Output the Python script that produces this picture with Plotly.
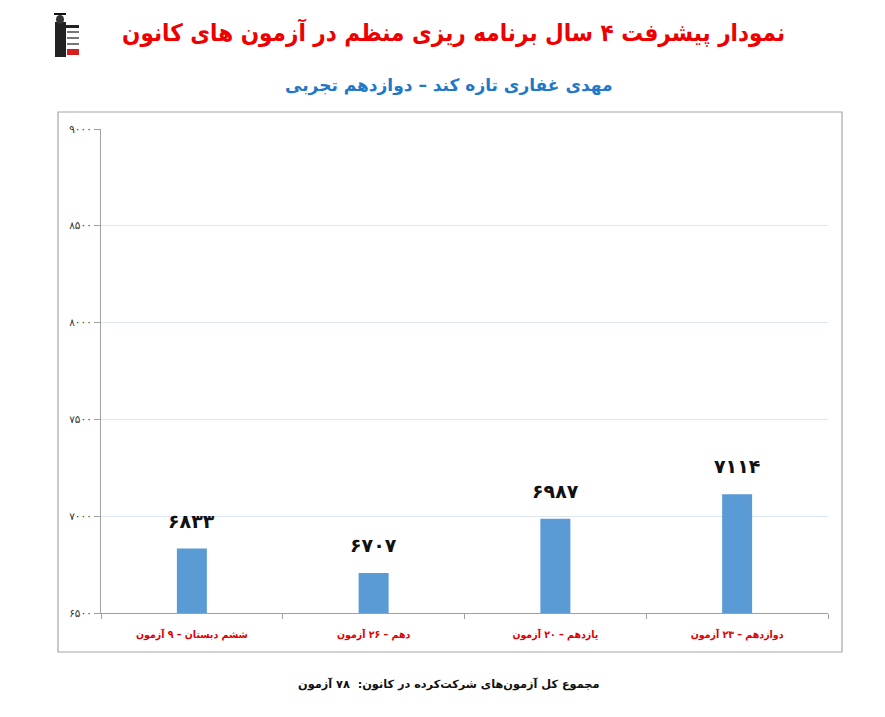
import plotly.graph_objects as go

# ---- data ----
categories = ["ششم دبستان – ۹ آزمون", "دهم – ۲۶ آزمون", "یازدهم – ۲۰ آزمون", "دوازدهم – ۲۳ آزمون"]
scores = [6833, 6707, 6987, 7114]
tick_values = [6500, 7000, 7500, 8000, 8500, 9000]

title_text = "نمودار پیشرفت ۴ سال برنامه ریزی منظم در آزمون های کانون"
subtitle_text = "مهدی غفاری تازه کند – دوازدهم تجربی"
footer_text = "مجموع کل آزمون‌های شرکت‌کرده در کانون:  ۷۸ آزمون"

FA = str.maketrans("0123456789", "۰۱۲۳۴۵۶۷۸۹")
def fa(n):
    return str(n).translate(FA)

FONT = "DejaVu Sans"
FONTC = "DejaVu Sans Condensed, DejaVu Sans"
OFF = 8  # page body offset
W, H = 885, 717
L, R, T, B = 101 - OFF, 828 - OFF, 129 - OFF, 613 - OFF

def px(x):
    return (x - OFF - L) / (R - L)

def py(y):
    return (B - (y - OFF)) / (B - T)

fig = go.Figure()
fig.add_trace(go.Bar(
    x=categories, y=scores, width=0.165,
    marker=dict(color="#5b9bd5", line=dict(width=0)),
    hoverinfo="x+y",
))

annotations = []
for c, v in zip(categories, scores):
    annotations.append(dict(x=c, y=v, xref="x", yref="y", text="<b>" + fa(v) + "</b>",
                            showarrow=False, yanchor="bottom", yshift=15,
                            font=dict(family=FONT, size=19, color="#111111")))

annotations += [
    dict(x=px(453), y=py(32), xref="paper", yref="paper", text="<b>" + title_text + "</b>",
         showarrow=False, xanchor="center", yanchor="middle",
         font=dict(family=FONTC, size=24, color="#ee0000")),
    dict(x=px(449), y=py(85), xref="paper", yref="paper", text="<b>" + subtitle_text + "</b>",
         showarrow=False, xanchor="center", yanchor="middle",
         font=dict(family=FONT, size=17, color="#1f78c8")),
    dict(x=px(448), y=py(684), xref="paper", yref="paper", text="<b>" + footer_text + "</b>",
         showarrow=False, xanchor="center", yanchor="middle",
         font=dict(family=FONT, size=11.3, color="#111111")),
]

def rect(x0, y0, x1, y1, color, kind="rect"):
    return dict(type=kind, xref="paper", yref="paper", x0=px(x0), x1=px(x1), y0=py(y1), y1=py(y0),
                line=dict(width=0), fillcolor=color)

shapes = [
    dict(type="rect", xref="paper", yref="paper", x0=px(58), x1=px(842), y0=py(652), y1=py(112),
         line=dict(color="#a6a6a6", width=1.2), fillcolor="rgba(0,0,0,0)", layer="below"),
    # logo approximation
    rect(55, 22, 66, 57, "#222222"),
    rect(56, 15, 64, 24, "#333333", "circle"),
    rect(54, 13, 66, 15, "#111111"),
    rect(64, 25, 79, 28, "#222222"),
    rect(67, 31, 79, 33, "#777777"),
    rect(67, 37, 79, 39, "#777777"),
    rect(67, 43, 79, 45, "#777777"),
    rect(67, 49, 79, 55, "#d62020"),
]

fig.update_layout(
    width=W, height=H,
    margin=dict(l=L, r=W - R, t=T, b=H - B, pad=0),
    paper_bgcolor="white", plot_bgcolor="white",
    showlegend=False,
    font=dict(family=FONT),
    annotations=annotations,
    shapes=shapes,
    xaxis=dict(
        type="category", categoryorder="array", categoryarray=categories,
        showgrid=False, showline=True, linecolor="#a0a0a0", linewidth=1.2,
        ticks="outside", tickson="boundaries", ticklen=5, tickcolor="#a0a0a0",
        tickfont=dict(family=FONTC, size=10.5, color="#e00000", weight="bold"),
        ticklabelstandoff=11,
    ),
    yaxis=dict(
        range=[6500, 9000], tickvals=tick_values, ticktext=[fa(v) for v in tick_values],
        showgrid=True, gridcolor="#dde7f3", gridwidth=1,
        showline=True, linecolor="#a0a0a0", linewidth=1.2,
        ticks="outside", ticklen=6, tickcolor="#a0a0a0",
        tickfont=dict(family=FONT, size=10.5, color="#333333"),
        zeroline=False,
    ),
    bargap=0.835,
)

fig.write_html("out.html")
